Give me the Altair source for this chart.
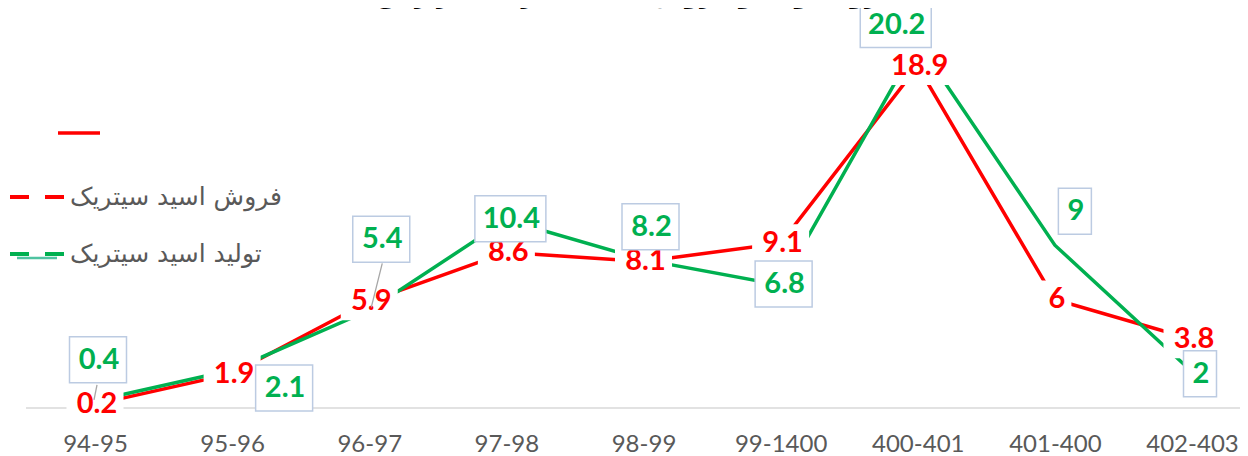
import altair as alt
import pandas as pd

# ---------------- data ----------------
periods = ["94-95", "95-96", "96-97", "97-98", "98-99", "99-1400", "400-401", "401-400", "402-403"]
sales = [0.2, 1.9, 5.9, 8.6, 8.1, 9.1, 18.9, 6, 3.8]
production = [0.4, 2.1, 5.4, 10.4, 8.2, 6.8, 20.2, 9, 2]
sales_labels = ["0.2", "1.9", "5.9", "8.6", "8.1", "9.1", "18.9", "6", "3.8"]
production_labels = ["0.4", "2.1", "5.4", "10.4", "8.2", "6.8", "20.2", "9", "2"]
SALES = "فروش اسید سیتریک"
PROD = "تولید اسید سیتریک"
TITLE = "روند تولید و فروش اسید سیتریک (هزار تن)"

# label placement of the boxed production labels (pixel offset from point)
prod_label_dx = [3, 52, 12, 4, 7, 3, -22, 20, 8]
prod_label_dy = [-41, 18, -71, -1, -33, -1, -18, -34, 2]

RED = "#FF0000"
GREEN = "#00B050"
BOX_H = 46
LABEL_SIZE = 29


def box_w(s):
    return {1: 33, 2: 45, 3: 57, 4: 71}.get(len(s), 14 * len(s) + 15)


sales_df = pd.DataFrame({"period": periods, "value": sales, "label": sales_labels, "series": SALES})
prod_df = pd.DataFrame({"period": periods, "value": production, "label": production_labels, "series": PROD})

W, H = 1214, 398

x_enc = alt.X(
    "period:N",
    sort=periods,
    scale=alt.Scale(type="point", range=[69, 1166], padding=0),
    axis=alt.Axis(
        title=None, domain=False, ticks=False, grid=False, labelAngle=0,
        labelFont="Lato", labelFontSize=24, labelColor="#595959", labelPadding=24,
    ),
)
y_scale = alt.Scale(domain=[0, 22], nice=False, zero=True)
y_enc = alt.Y("value:Q", scale=y_scale, axis=None)

color_enc = alt.Color(
    "series:N",
    scale=alt.Scale(domain=[SALES, PROD], range=[RED, GREEN]),
    legend=alt.Legend(
        title=None, orient="none", legendX=-18, legendY=158,
        symbolType="stroke", symbolSize=2916, symbolStrokeWidth=4, symbolDash=[19, 16],
        labelFont="DejaVu Sans", labelFontSize=25, labelColor="#595959", labelLimit=400,
        rowPadding=15, labelOffset=4, padding=0,
    ),
)

layers = []

# axis base line
layers.append(
    alt.Chart(pd.DataFrame({"z": [0]})).mark_rule(color="#D9D9D9", strokeWidth=1.5).encode(
        x=alt.value(0), x2=alt.value(W), y=alt.Y("z:Q", scale=y_scale, axis=None)
    )
)

# lines
layers.append(alt.Chart(sales_df).mark_line(strokeWidth=3.5).encode(x=x_enc, y=y_enc, color=color_enc))
layers.append(alt.Chart(prod_df).mark_line(strokeWidth=3.5).encode(x=x_enc, y=y_enc, color=color_enc))

# red labels (white background + text)
for i, lab in enumerate(sales_labels):
    w = box_w(lab)
    d = alt.Chart(sales_df).transform_filter(alt.datum.period == periods[i])
    layers.append(
        d.mark_rect(fill="white", xOffset=-w / 2, x2Offset=w / 2, yOffset=-BOX_H / 2 + 4, y2Offset=BOX_H / 2 - 4).encode(
            x=x_enc, x2=alt.X2("period"), y=y_enc, y2=alt.Y2("value")
        )
    )
    layers.append(
        d.mark_text(font="Lato", fontWeight="bold", fontSize=LABEL_SIZE, color=RED, align="center",
                    baseline="middle", dx=2).encode(x=x_enc, y=y_enc, text="label:N")
    )

# leader lines for two labels
leaders = {0: (2, -16, -1, -1), 2: (13, -47, 2, -3)}
for i, (x1, y1, x2, y2) in leaders.items():
    layers.append(
        alt.Chart(prod_df).transform_filter(alt.datum.period == periods[i]).mark_rule(
            color="#A6A6A6", strokeWidth=1.3, xOffset=x1, yOffset=y1, x2Offset=x2, y2Offset=y2
        ).encode(x=x_enc, x2=alt.X2("period"), y=y_enc, y2=alt.Y2("value"))
    )

# green boxed labels
for i, lab in enumerate(production_labels):
    w = box_w(lab)
    dx, dy = prod_label_dx[i], prod_label_dy[i]
    d = alt.Chart(prod_df).transform_filter(alt.datum.period == periods[i])
    layers.append(
        d.mark_rect(fill="white", stroke="#BCCBE2", strokeWidth=1.5,
                    xOffset=dx - w / 2, x2Offset=dx + w / 2,
                    yOffset=dy - BOX_H / 2, y2Offset=dy + BOX_H / 2).encode(
            x=x_enc, x2=alt.X2("period"), y=y_enc, y2=alt.Y2("value")
        )
    )
    layers.append(
        d.mark_text(font="Lato", fontWeight="bold", fontSize=LABEL_SIZE, color=GREEN, align="center",
                    baseline="middle", dx=dx + 1, dy=dy).encode(x=x_enc, y=y_enc, text="label:N")
    )

# stray legend strokes and title (mostly above the visible page)
one = pd.DataFrame({"a": [0]})
layers.append(alt.Chart(one).mark_rule(color=RED, strokeWidth=3.5).encode(
    x=alt.value(32), x2=alt.value(74), y=alt.value(123)))
layers.append(alt.Chart(one).mark_rule(color="#4FC3A1", strokeWidth=2.5).encode(
    x=alt.value(-9), x2=alt.value(31), y=alt.value(248)))
layers.append(alt.Chart(one).mark_text(text=TITLE, font="DejaVu Sans", fontSize=24, fontWeight="bold",
                                       color="black", baseline="alphabetic", align="center").encode(
    x=alt.value(596), y=alt.value(-7)))

chart = alt.layer(*layers).properties(
    width=W, height=H,
    autosize=alt.AutoSizeParams(type="none"),
    padding={"left": 18, "top": 2, "right": 0, "bottom": 48},
).configure_view(stroke=None)

chart.save("out.html", embed_options={"renderer": "svg", "actions": False})
